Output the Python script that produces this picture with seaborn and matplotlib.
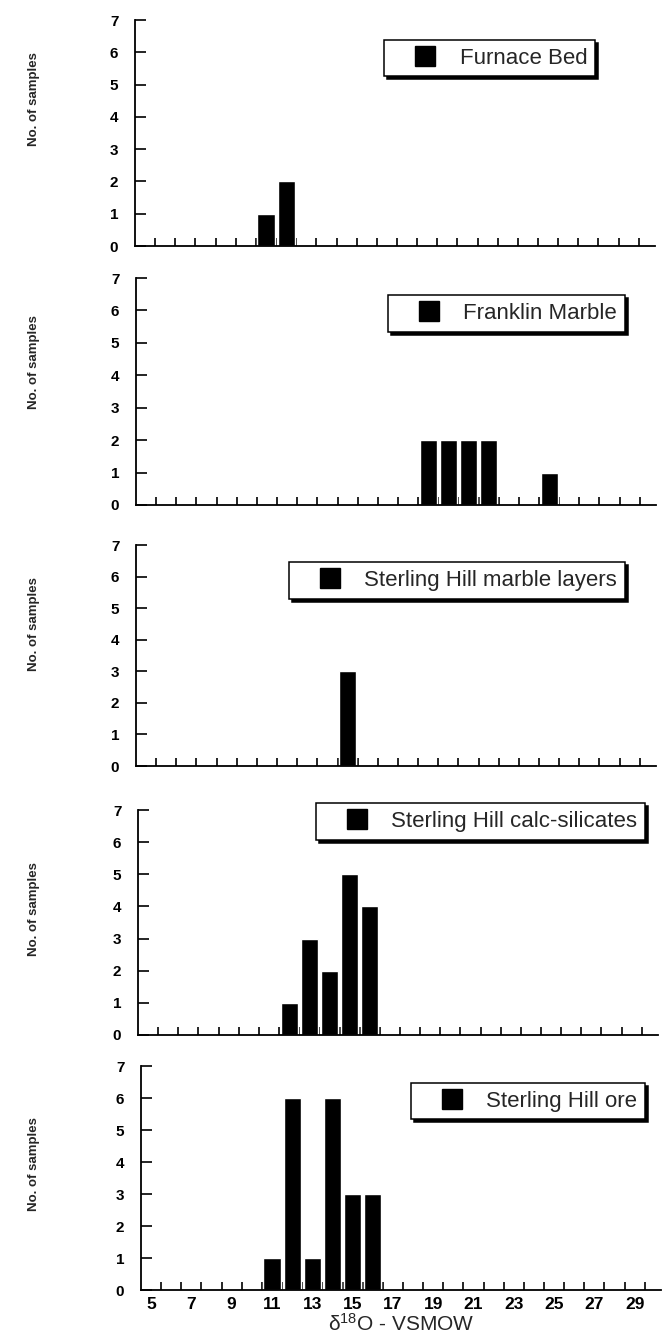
import numpy as np
import pandas as pd
import matplotlib
matplotlib.use("Agg")
import matplotlib.pyplot as plt
import seaborn as sns
from matplotlib.lines import Line2D

# ---------------- data ----------------
axis_bins = list(range(5, 30))                      # delta18O categories on the x axis
tick_labels = ["5", "7", "9", "11", "13", "15", "17", "19", "21", "23", "25", "27", "29"]

furnace_bins = [11, 12]
furnace_counts = [1, 2]

franklin_bins = [19, 20, 21, 22, 25]
franklin_counts = [2, 2, 2, 2, 1]

marble_bins = [15]
marble_counts = [3]

calc_bins = [12, 13, 14, 15, 16]
calc_counts = [1, 3, 2, 5, 4]

ore_bins = [11, 12, 13, 14, 15, 16]
ore_counts = [1, 6, 1, 6, 3, 3]

panel_names = ["Furnace Bed", "Franklin Marble", "Sterling Hill marble layers",
               "Sterling Hill calc-silicates", "Sterling Hill ore"]
panel_bins = [furnace_bins, franklin_bins, marble_bins, calc_bins, ore_bins]
panel_counts = [furnace_counts, franklin_counts, marble_counts, calc_counts, ore_counts]

# ---------------- style ----------------
sns.set_theme(style="ticks")
plt.rcParams["font.family"] = ["Liberation Sans", "DejaVu Sans"]
plt.rcParams["mathtext.fontset"] = "custom"
plt.rcParams["mathtext.rm"] = "Liberation Sans"
plt.rcParams["mathtext.it"] = "Liberation Sans:italic"
plt.rcParams["mathtext.bf"] = "Liberation Sans:bold"

W, H = 663, 1341
fig = plt.figure(figsize=(W / 100, H / 100), dpi=100)

bin_px = 20.15
n_vis = 25.8
width_px = bin_px * n_vis
lefts = [135, 136, 136, 138, 141]
# (top, bottom) pixel rows of each panel (y=7 to y=0)
rows = [(20, 246), (278, 505), (545, 766), (810, 1035), (1066, 1290)]
# legend upper-right anchors (axes fraction)
leg_anchor = [(0.885, 0.912), (0.94, 0.925), (0.94, 0.923), (0.975, 1.03), (0.97, 0.925)]
ylab_y = [0.65, 0.63, 0.64, 0.56, 0.56]

for i, (top, bot) in enumerate(rows):
    left_px = lefts[i]
    ax = fig.add_axes([left_px / W, 1 - bot / H, width_px / W, (bot - top) / H])
    df = pd.DataFrame({"bin": panel_bins[i], "count": panel_counts[i]})
    sns.barplot(data=df, x="bin", y="count", order=axis_bins, color="black",
                saturation=1, width=0.85, errorbar=None, ax=ax)
    ax.set_xlim(-0.5, n_vis - 0.5)
    ax.set_ylim(0, 7)
    ax.set_yticks(range(8))
    ax.set_yticklabels([str(v) for v in range(8)], fontsize=11, fontweight="bold")
    ax.set_xticks(np.arange(0, len(axis_bins), 2))
    if i == len(rows) - 1:
        ax.set_xticklabels(tick_labels, fontsize=12.5, fontweight="bold")
        ax.set_xlabel(r"$\mathrm{\delta^{18}}$O - VSMOW", fontsize=15, labelpad=0.5)
    else:
        ax.set_xticklabels([])
        ax.set_xlabel("")
    ax.set_xticks(np.arange(0.5, len(axis_bins) + 0.5, 1), minor=True)
    ax.tick_params(axis="x", which="major", length=0, pad=5, colors="black")
    ax.tick_params(axis="x", which="minor", direction="in", length=5.5, width=1.2, color="black")
    ax.tick_params(axis="y", direction="in", length=8, width=1.2, pad=12, colors="black")
    for s in ["top", "right"]:
        ax.spines[s].set_visible(False)
    for s in ["left", "bottom"]:
        ax.spines[s].set_linewidth(1.3)
        ax.spines[s].set_color("black")
    ax.set_ylabel("No. of samples", fontsize=9.5, fontweight="bold")
    ax.yaxis.set_label_coords(-(left_px - 40) / width_px, ylab_y[i])

    handle = Line2D([], [], marker="s", color="black", linestyle="none", markersize=14.5)
    ax.legend([handle], [panel_names[i]], loc="upper right", bbox_to_anchor=leg_anchor[i],
              frameon=True, fancybox=False, edgecolor="black", framealpha=1,
              shadow={"ox": 2.2, "oy": -2.2, "facecolor": "black", "edgecolor": "black", "alpha": 1},
              handlelength=3.0, handletextpad=0.05, borderpad=0.35, fontsize=16,
              borderaxespad=0)
    ax.get_legend().get_frame().set_linewidth(1.1)

fig.savefig("out.png", dpi=100, facecolor="white")
